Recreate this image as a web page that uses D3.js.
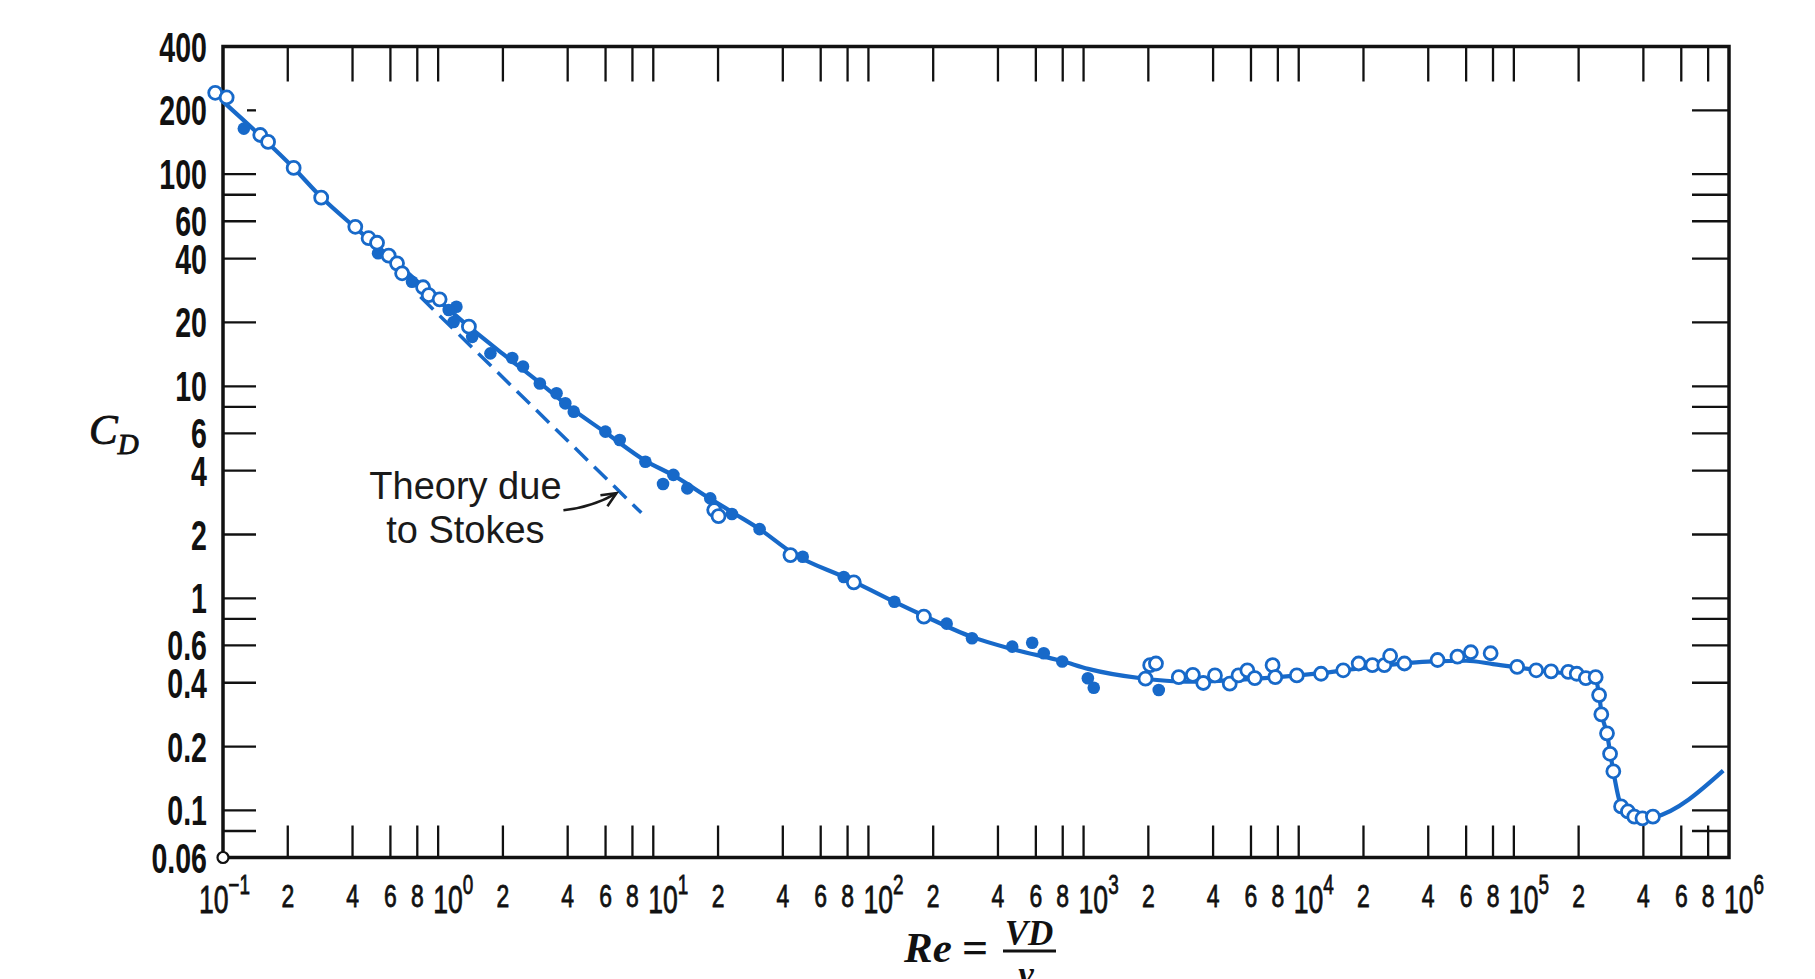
<!DOCTYPE html>
<html>
<head>
<meta charset="utf-8">
<script src="https://cdn.jsdelivr.net/npm/d3@7"></script>
<style>
  html, body { margin: 0; padding: 0; background: #fff; }
  svg { display: block; }
</style>
</head>
<body>
<div id="chart"></div>
<script>
// Drag coefficient of a sphere vs Reynolds number

// smooth curve through the data
const curvePoints = [
  [0.1, 220], [0.15, 151], [0.213, 107], [0.286, 78], [0.412, 56], [0.6, 40.5],
  [0.85, 29.5], [1.0, 25.5], [1.4, 19.0], [2.0, 14.2], [3.0, 10.3],
  [4.0, 8.1], [6.0, 6.05], [9.2, 4.45], [12.4, 3.8], [18.4, 2.95], [24, 2.5],
  [31, 2.13], [45, 1.62], [80, 1.24], [130, 0.97], [180, 0.83], [300, 0.66],
  [470, 0.575], [800, 0.505], [1050, 0.465], [1850, 0.42], [3000, 0.405],
  [5000, 0.412], [8000, 0.425], [13000, 0.445], [20000, 0.47], [42000, 0.505],
  [60000, 0.508], [80000, 0.49], [130000, 0.458], [210000, 0.433], [238000, 0.425],
  [249000, 0.35], [256000, 0.285], [271000, 0.23], [281000, 0.185], [291000, 0.15],
  [312000, 0.108], [340000, 0.096], [395000, 0.091], [450000, 0.093], [940000, 0.154]
];

// open circles
const openPoints = [
  [0.092, 242], [0.104, 230], [0.149, 153], [0.162, 142], [0.213, 107], [0.286, 77.5],
  [0.412, 56.5], [0.475, 49.9], [0.52, 47.5], [0.589, 41.3], [0.644, 38.0], [0.68, 34.1],
  [0.851, 29.3], [0.904, 26.9], [1.016, 25.7], [1.39, 19.1], [19.2, 2.61], [20.1, 2.44],
  [43.4, 1.60], [85.5, 1.19], [181, 0.82], [1940, 0.418], [2040, 0.484], [2170, 0.493],
  [2770, 0.425], [3220, 0.436], [3600, 0.399], [4080, 0.433], [4780, 0.396], [5250, 0.433],
  [5770, 0.458], [6250, 0.421], [7560, 0.484], [7780, 0.425], [9800, 0.433], [12700, 0.441],
  [16100, 0.458], [19000, 0.493], [22000, 0.484], [25000, 0.484], [26600, 0.535], [31000, 0.493],
  [44200, 0.512], [54700, 0.531], [63100, 0.557], [78000, 0.551], [103600, 0.475], [127000, 0.458],
  [149000, 0.453], [179000, 0.45], [196000, 0.441], [216000, 0.421], [240000, 0.425],
  [249000, 0.35], [255000, 0.284], [271000, 0.231], [280000, 0.185], [290000, 0.153],
  [315000, 0.1045], [339000, 0.0989], [363000, 0.0935], [396000, 0.0918], [443000, 0.0935]
];

// filled circles
const filledPoints = [
  [0.125, 164], [0.526, 42.4], [0.756, 31.1], [1.216, 23.7], [1.12, 22.9], [1.18, 20.1],
  [1.44, 17.1], [1.75, 14.3], [2.21, 13.6], [2.48, 12.4], [2.97, 10.3], [3.55, 9.27],
  [3.90, 8.31], [4.27, 7.59], [5.99, 6.11], [6.98, 5.58], [9.19, 4.41], [12.4, 3.82],
  [11.1, 3.46], [14.4, 3.30], [18.4, 2.96], [23.2, 2.50], [31.2, 2.12], [49.5, 1.57],
  [76.8, 1.26], [132, 0.964], [231, 0.76], [303, 0.649], [466, 0.592], [577, 0.618],
  [653, 0.551], [796, 0.504], [1047, 0.42], [1115, 0.379], [2236, 0.37]
];

// Stokes theory (dashed), end points as drawn
const stokesLine = [[0.827, 26.4], [8.8, 2.53]];
const stokesArrowTip = [6.74, 3.13];
const stokesNote = ['Theory due', 'to Stokes'];

// axes
const yTickValues = [200, 100, 80, 60, 40, 20, 10, 8, 6, 4, 2, 1, 0.8, 0.6, 0.4, 0.2, 0.1, 0.08];
const yLabelValues = [400, 200, 100, 60, 40, 20, 10, 6, 4, 2, 1, 0.6, 0.4, 0.2, 0.1, 0.06];
const xDecades = [-1, 0, 1, 2, 3, 4, 5, 6];
const xMultipliers = [2, 4, 6, 8];
const cornerMark = [0.1, 0.06];

const width = 1815, height = 979;
const blue = '#1769c9';
const ink = '#111';

const svg = d3.select('#chart').append('svg')
  .attr('width', width)
  .attr('height', height);

const x = d3.scaleLog().domain([0.1, 1e6]).range([223, 1729]);
const y = d3.scaleLog().domain([0.06, 400]).range([857.5, 46.5]);

const x0 = x.range()[0], x1 = x.range()[1];
const yTop = y.range()[1], yBot = y.range()[0];
const tickLen = 34;

// x tick positions (2,4,6,8 and decades inside the frame)
const xTickValues = [];
xDecades.forEach(k => {
  if (k < 6) xMultipliers.forEach(m => xTickValues.push(m * Math.pow(10, k)));
  if (k > -1 && k < 6) xTickValues.push(Math.pow(10, k));
});

const ticks = svg.append('g').attr('stroke', ink).attr('stroke-width', 2.3);

// bottom and top ticks
ticks.selectAll('.xb').data(xTickValues).enter().append('line')
  .attr('x1', d => x(d)).attr('x2', d => x(d))
  .attr('y1', yBot).attr('y2', yBot - tickLen + 2);
ticks.selectAll('.xt').data(xTickValues).enter().append('line')
  .attr('x1', d => x(d)).attr('x2', d => x(d))
  .attr('y1', yTop).attr('y2', yTop + tickLen + 1);

// left ticks (200 is only a short detached dash in the original)
ticks.selectAll('.yl').data(yTickValues).enter().append('line')
  .attr('x1', d => d === 200 ? x0 + 24 : x0)
  .attr('x2', x0 + tickLen - 1)
  .attr('y1', d => y(d)).attr('y2', d => y(d));
// right ticks
ticks.selectAll('.yr').data(yTickValues).enter().append('line')
  .attr('x1', x1).attr('x2', x1 - tickLen - 3)
  .attr('y1', d => y(d)).attr('y2', d => y(d));

// frame
svg.append('rect')
  .attr('x', x0).attr('y', yTop)
  .attr('width', x1 - x0).attr('height', yBot - yTop)
  .attr('fill', 'none').attr('stroke', ink).attr('stroke-width', 3.5);

// y labels: condensed bold numerals
svg.append('g').selectAll('text').data(yLabelValues).enter().append('text')
  .attr('transform', d => `translate(207,${y(d) + 15}) scale(0.68,1)`)
  .attr('text-anchor', 'end')
  .attr('font-family', '"Liberation Sans", Arial, sans-serif')
  .attr('font-weight', 'bold')
  .attr('font-size', 42)
  .attr('fill', ink)
  .text(d => String(d));

// x labels: multipliers
const xLabels = svg.append('g')
  .attr('font-family', '"Liberation Sans", Arial, sans-serif')
  .attr('fill', ink)
  .attr('stroke', ink)
  .attr('stroke-width', 0.8);
const multLabels = [];
xDecades.forEach(k => {
  if (k < 6) xMultipliers.forEach(m => multLabels.push({ m, v: m * Math.pow(10, k) }));
});
xLabels.selectAll('.mult').data(multLabels).enter().append('text')
  .attr('transform', d => `translate(${x(d.v)},907) scale(0.74,1)`)
  .attr('text-anchor', 'middle')
  .attr('font-size', 31)
  .text(d => d.m);

// x labels: decades 10^k
const dec = xLabels.selectAll('.dec').data(xDecades).enter().append('text')
  .attr('transform', k => `translate(${x(Math.pow(10, k)) - (k < 0 ? 24 : 5)},913) scale(0.7,1)`)
  .attr('text-anchor', 'start');
dec.append('tspan').attr('font-size', 38).text('10');
dec.append('tspan').attr('font-size', 27).attr('dy', -19)
  .text(k => k < 0 ? '\u2212' + Math.abs(k) : String(k));

// axis titles
svg.append('text')
  .attr('x', 89).attr('y', 444)
  .attr('font-family', '"Liberation Serif", "DejaVu Serif", serif')
  .attr('font-style', 'italic')
  .attr('font-size', 43)
  .attr('fill', ink)
  .attr('stroke', ink)
  .attr('stroke-width', 0.9)
  .call(t => {
    t.append('tspan').text('C');
    t.append('tspan').attr('font-size', 29).attr('dy', 10).text('D');
  });

const reTitle = svg.append('g')
  .attr('font-family', '"Liberation Serif", "DejaVu Serif", serif')
  .attr('font-style', 'italic')
  .attr('font-weight', 'bold')
  .attr('fill', ink);
reTitle.append('text').attr('x', 904).attr('y', 962).attr('font-size', 43).text('Re');
reTitle.append('text').attr('x', 962).attr('y', 963).attr('font-size', 46)
  .attr('font-style', 'normal').text('=');
reTitle.append('text').attr('x', 1029).attr('y', 945).attr('font-size', 35)
  .attr('text-anchor', 'middle').text('VD');
reTitle.append('line').attr('x1', 1003).attr('x2', 1056).attr('y1', 951).attr('y2', 951)
  .attr('stroke', ink).attr('stroke-width', 3);
reTitle.append('text').attr('x', 1026).attr('y', 986).attr('font-size', 35)
  .attr('text-anchor', 'middle').text('\u03bd');

// Stokes dashed line
svg.append('path')
  .datum(stokesLine)
  .attr('d', d3.line().x(d => x(d[0])).y(d => y(d[1])))
  .attr('fill', 'none')
  .attr('stroke', blue)
  .attr('stroke-width', 3.5)
  .attr('stroke-dasharray', '18 9');

// main curve
svg.append('path')
  .datum(curvePoints)
  .attr('d', d3.line().x(d => x(d[0])).y(d => y(d[1])).curve(d3.curveMonotoneX))
  .attr('fill', 'none')
  .attr('stroke', blue)
  .attr('stroke-width', 4.2)
  .attr('stroke-linejoin', 'round');

// data points
svg.append('g').selectAll('circle').data(filledPoints).enter().append('circle')
  .attr('cx', d => x(d[0])).attr('cy', d => y(d[1]))
  .attr('r', 6.3)
  .attr('fill', blue);

svg.append('g').selectAll('circle').data(openPoints).enter().append('circle')
  .attr('cx', d => x(d[0])).attr('cy', d => y(d[1]))
  .attr('r', 6.5)
  .attr('fill', '#fff')
  .attr('stroke', blue)
  .attr('stroke-width', 2.8);

// little circle at the origin corner
svg.append('circle')
  .attr('cx', x(cornerMark[0])).attr('cy', y(cornerMark[1]))
  .attr('r', 5.5)
  .attr('fill', '#fff')
  .attr('stroke', ink)
  .attr('stroke-width', 2.2);

// annotation
const tipX = x(stokesArrowTip[0]), tipY = y(stokesArrowTip[1]);
const note = svg.append('g');
note.selectAll('text').data(stokesNote).enter().append('text')
  .attr('x', tipX - 151)
  .attr('y', (d, i) => tipY + 6 + i * 44)
  .attr('text-anchor', 'middle')
  .attr('font-family', '"Liberation Sans", Arial, sans-serif')
  .attr('font-size', 38)
  .attr('fill', '#1a1a1a')
  .text(d => d);
note.append('path')
  .attr('d', `M${tipX - 53},${tipY + 17} Q${tipX - 25},${tipY + 14} ${tipX},${tipY}`)
  .attr('fill', 'none').attr('stroke', '#1a1a1a').attr('stroke-width', 2.6);
note.append('path')
  .attr('d', `M${tipX - 16},${tipY + 2} L${tipX},${tipY} L${tipX - 9},${tipY + 13}`)
  .attr('fill', 'none').attr('stroke', '#1a1a1a').attr('stroke-width', 2.6)
  .attr('stroke-linejoin', 'miter');
</script>
</body>
</html>
